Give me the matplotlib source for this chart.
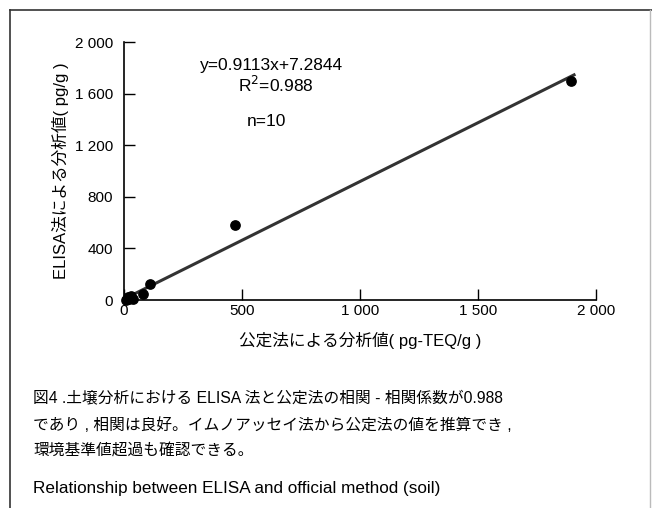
import matplotlib.pyplot as plt
from matplotlib.lines import Line2D

plt.rcParams['font.family'] = ['Liberation Sans', 'Noto Sans CJK JP', 'DejaVu Sans']

# official method (pg-TEQ/g) vs ELISA (pg/g)
official = [8, 12, 17, 22, 38, 30, 79, 110, 470, 1894]
elisa = [0, 5, 23, 10, 8, 30, 44, 124, 580, 1698]
slope = 0.9113
intercept = 7.2844
fit_x = [0, 1907]
x_ticks = [0, 500, 1000, 1500, 2000]
x_labels = ["0", "500", "1 000", "1 500", "2 000"]
y_ticks = [0, 400, 800, 1200, 1600, 2000]
y_labels = ["0", "400", "800", "1 200", "1 600", "2 000"]

W, H = 652, 508
fig = plt.figure(figsize=(W / 100, H / 100), dpi=100)

# outer frame
fig.add_artist(Line2D([10 / W, 10 / W], [0, 1 - 10 / H], color="#333333", lw=1.2))
fig.add_artist(Line2D([10 / W, 1], [1 - 10 / H, 1 - 10 / H], color="#333333", lw=1.2))
fig.add_artist(Line2D([650 / W, 650 / W], [0, 1 - 10 / H], color="#bbbbbb", lw=1.0))

ax = fig.add_axes([124 / W, 1 - 300 / H, 472 / W, 258 / H])
ax.scatter(official, elisa, s=45, color="black", zorder=3, clip_on=False)
fit_y = [slope * x + intercept for x in fit_x]
ax.plot(fit_x, fit_y, color="#333333", lw=2.2, clip_on=False)

ax.set_xlim(0, 2000)
ax.set_ylim(0, 2000)
ax.set_xticks(x_ticks)
ax.set_xticklabels(x_labels)
ax.set_yticks(y_ticks)
ax.set_yticklabels(y_labels)
ax.tick_params(direction="in", length=8, width=1, labelsize=11, pad=3)
ax.tick_params(axis="y", pad=8)
for s in ["top", "right"]:
    ax.spines[s].set_visible(False)
for s in ["left", "bottom"]:
    ax.spines[s].set_linewidth(1.2)

ax.set_xlabel("公定法による分析値( pg-TEQ/g )", fontsize=12, labelpad=10)
ax.set_ylabel("ELISA法による分析値( pg/g )", fontsize=12, labelpad=4)

ax.text(320, 1780, "y=0.9113x+7.2844", fontsize=12.5)
ax.text(485, 1610, "R$^2$=0.988", fontsize=12.5)
ax.text(520, 1350, "n=10", fontsize=12.5)

cap_lines = [
    "図4 .土壌分析における ELISA 法と公定法の相関 - 相関係数が0.988",
    "であり , 相関は良好。イムノアッセイ法から公定法の値を推算でき ,",
    "環境基準値超過も確認できる。",
]
cap_y = [398, 425, 451]
for t, y in zip(cap_lines, cap_y):
    fig.text(33 / W, 1 - y / H, t, fontsize=11.3, va="center", ha="left")
fig.text(33 / W, 1 - 488 / H, "Relationship between ELISA and official method (soil)",
         fontsize=12.3, va="center", ha="left")

fig.savefig("out.png", dpi=100)
